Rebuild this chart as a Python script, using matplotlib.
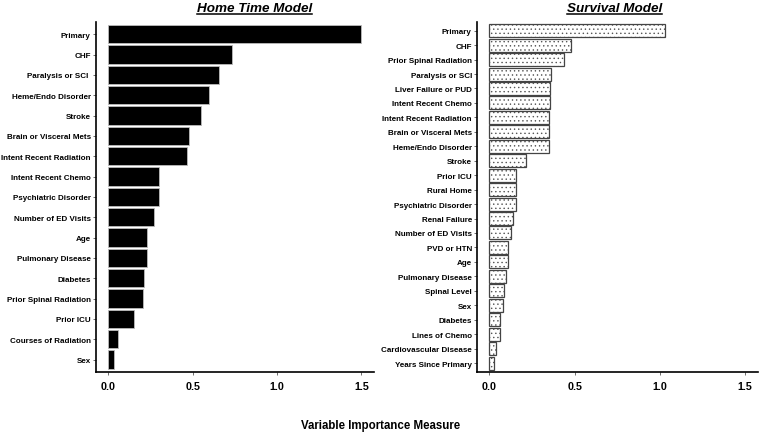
import matplotlib
matplotlib.use("Agg")
import matplotlib.pyplot as plt
from matplotlib.lines import Line2D

plt.rcParams['font.family'] = ['Liberation Sans', 'DejaVu Sans']
plt.rcParams['hatch.linewidth'] = 0.5

home_labels = ["Primary", "CHF", "Paralysis or SCI ", "Heme/Endo Disorder", "Stroke",
               "Brain or Visceral Mets", "Intent Recent Radiation", "Intent Recent Chemo",
               "Psychiatric Disorder", "Number of ED Visits", "Age", "Pulmonary Disease",
               "Diabetes", "Prior Spinal Radiation", "Prior ICU", "Courses of Radiation", "Sex"]
home_values = [1.495, 0.734, 0.657, 0.596, 0.548, 0.479, 0.466, 0.302, 0.302, 0.268,
               0.229, 0.229, 0.213, 0.207, 0.154, 0.057, 0.036]

surv_labels = ["Primary", "CHF", "Prior Spinal Radiation", "Paralysis or SCI", "Liver Failure or PUD",
               "Intent Recent Chemo", "Intent Recent Radiation", "Brain or Visceral Mets",
               "Heme/Endo Disorder", "Stroke", "Prior ICU", "Rural Home", "Psychiatric Disorder",
               "Renal Failure", "Number of ED Visits", "PVD or HTN", "Age", "Pulmonary Disease",
               "Spinal Level", "Sex", "Diabetes", "Lines of Chemo", "Cardiovascular Disease",
               "Years Since Primary"]
surv_values = [1.029, 0.478, 0.435, 0.359, 0.353, 0.353, 0.349, 0.349, 0.349, 0.216, 0.156,
               0.156, 0.154, 0.136, 0.127, 0.109, 0.107, 0.095, 0.086, 0.078, 0.064, 0.064,
               0.039, 0.025]

x_ticks = [0.0, 0.5, 1.0, 1.5]
x_ticklabels = ["0.0", "0.5", "1.0", "1.5"]

W, H = 760, 435
fig = plt.figure(figsize=(7.6, 4.35), dpi=100)

def px_axes(x0, y0, x1, y1):
    return fig.add_axes([x0 / W, 1 - y1 / H, (x1 - x0) / W, (y1 - y0) / H])

ax1 = px_axes(95.7, 23, 374, 372.7)
ax2 = px_axes(476.7, 23, 757.7, 372.7)

def style(ax, labels):
    n = len(labels)
    ax.set_xlim(-0.075, 1.575)
    ax.set_ylim(n - 1 + 0.6, -0.6)
    ax.set_yticks(range(n))
    ax.set_yticklabels(labels, fontsize=5.8, fontweight='bold')
    ax.set_xticks(x_ticks)
    ax.set_xticklabels(x_ticklabels, fontsize=7.7, fontweight='bold')
    for s in ['top', 'right']:
        ax.spines[s].set_visible(False)
    for s in ['left', 'bottom']:
        ax.spines[s].set_linewidth(1.2)
        ax.spines[s].set_color('black')
    ax.tick_params(axis='y', length=2, width=0.6, color='#555555', pad=1.5)
    ax.tick_params(axis='x', length=2, width=0.6, color='#555555', pad=5)

# Left panel
y1 = list(range(len(home_labels)))
ax1.barh(y1, home_values, height=0.9, color='black', edgecolor='#bbbbbb', linewidth=0.6)
style(ax1, home_labels)

# Right panel
y2 = list(range(len(surv_labels)))
ax2.barh(y2, surv_values, height=0.9, color='white', edgecolor='#555555', hatch='....', linewidth=0)
ax2.barh(y2, surv_values, height=0.9, fill=False, edgecolor='#444444', linewidth=0.9)
style(ax2, surv_labels)

# Titles with underline
def underlined_title(text, xc, yc):
    t = fig.text(xc / W, 1 - yc / H, text, ha='center', va='center', fontsize=9.7,
                 fontweight='bold', fontstyle='italic')
    fig.canvas.draw()
    bb = t.get_window_extent().transformed(fig.transFigure.inverted())
    yline = bb.y0 - 0.2 / H
    fig.add_artist(Line2D([bb.x0, bb.x1], [yline, yline], color='black', lw=1.1,
                          transform=fig.transFigure))

underlined_title("Home Time Model", 254.5, 9)
underlined_title("Survival Model", 614.7, 9)

fig.text(381 / W, 1 - 425.7 / H, "Variable Importance Measure", ha='center', va='center',
         fontsize=8.3, fontweight='bold')

fig.savefig("out.png", dpi=100, facecolor='white')
